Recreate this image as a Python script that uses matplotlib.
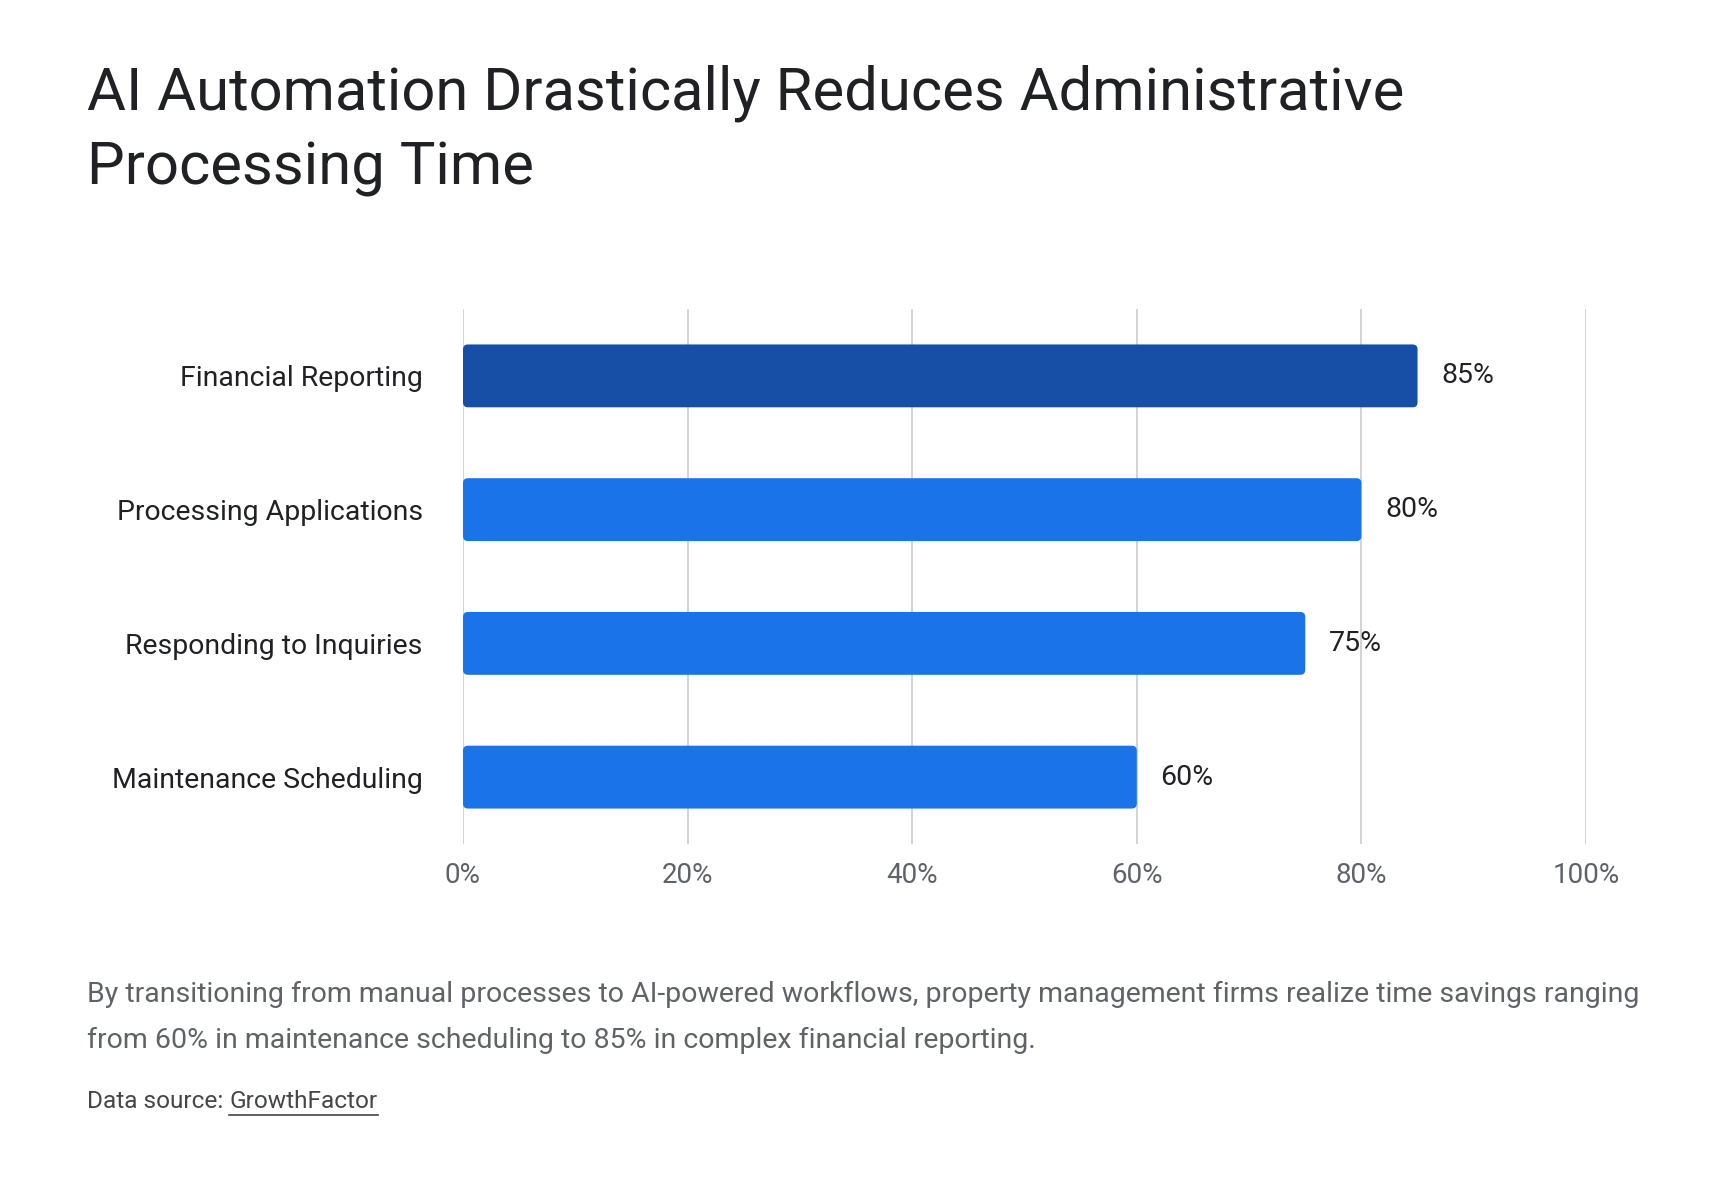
import matplotlib
matplotlib.use("Agg")
import matplotlib.pyplot as plt
from matplotlib.patches import FancyBboxPatch

# data
categories = ["Financial Reporting", "Processing Applications",
              "Responding to Inquiries", "Maintenance Scheduling"]
values = [85, 80, 75, 60]
bar_colors = ["#174ea6", "#1a73e8", "#1a73e8", "#1a73e8"]
xticks = [0, 20, 40, 60, 80, 100]
xtick_labels = ["0%", "20%", "40%", "60%", "80%", "100%"]

title = "AI Automation Drastically Reduces Administrative\nProcessing Time"
subtitle = ("By transitioning from manual processes to AI-powered workflows, property management firms realize time savings ranging\n"
            "from 60% in maintenance scheduling to 85% in complex financial reporting.")

plt.rcParams['font.family'] = ['Roboto', 'DejaVu Sans']

fig = plt.figure(figsize=(17.2, 11.8), dpi=100)
ax = fig.add_axes([463/1720, 336/1180, 1123/1720, 535/1180])

ypos = list(range(len(categories)))
bars = ax.barh(ypos, values, height=0.47, color=bar_colors, zorder=3)

ax.set_xlim(0, 100)
ax.set_ylim(len(categories) - 0.5, -0.5)

# swap plain bars for rounded ones
x_per_px = 100 / 1123
y_per_px = 4 / 535
for b, c in zip(bars, bar_colors):
    x, y = b.get_x(), b.get_y()
    w, h = b.get_width(), b.get_height()
    b.remove()
    r = 5 * x_per_px
    p = FancyBboxPatch((x, y), w, h,
                       boxstyle=f"round,pad=0,rounding_size={r}",
                       mutation_aspect=y_per_px / x_per_px,
                       facecolor=c, edgecolor="none", zorder=3)
    ax.add_patch(p)

for yy, v in zip(ypos, values):
    ax.annotate(f"{v}%", xy=(v, yy), xytext=(17, 0), textcoords="offset points",
                va="center", ha="left", fontsize=20.5, color="#202124")

ax.set_yticks(ypos)
ax.set_yticklabels(categories, fontsize=20.4, color="#202124")
ax.set_xticks(xticks)
ax.set_xticklabels(xtick_labels, fontsize=20, color="#5f6368")
ax.tick_params(axis="y", length=0, pad=29)
ax.tick_params(axis="x", length=0, pad=13)
ax.grid(axis="x", color="#cccccc", linewidth=1.2, zorder=0)
for s in ax.spines.values():
    s.set_visible(False)

fig.text(87/1720, 1 - 64/1180, title, fontsize=43, color="#202124",
         va="top", ha="left", linespacing=1.41)
fig.text(87/1720, 1 - 1017/1180, subtitle, fontsize=20.5, color="#5f6368",
         va="center", ha="left", linespacing=1.9)

src = fig.text(87/1720, 1 - 1102/1180, "Data source: ", fontsize=17.6, color="#444746",
               va="center", ha="left")
fig.canvas.draw()
bb = src.get_window_extent()
link = fig.text(bb.x1 / 1720, 1 - 1102/1180, "GrowthFactor", fontsize=17.6,
                color="#444746", va="center", ha="left")
fig.canvas.draw()
lb = link.get_window_extent()
fig.add_artist(plt.Line2D([lb.x0 / 1720, lb.x1 / 1720],
                          [(lb.y0 - 1) / 1180, (lb.y0 - 1) / 1180],
                          color="#444746", linewidth=1.2))

fig.savefig("out.png", dpi=100, facecolor="white")
